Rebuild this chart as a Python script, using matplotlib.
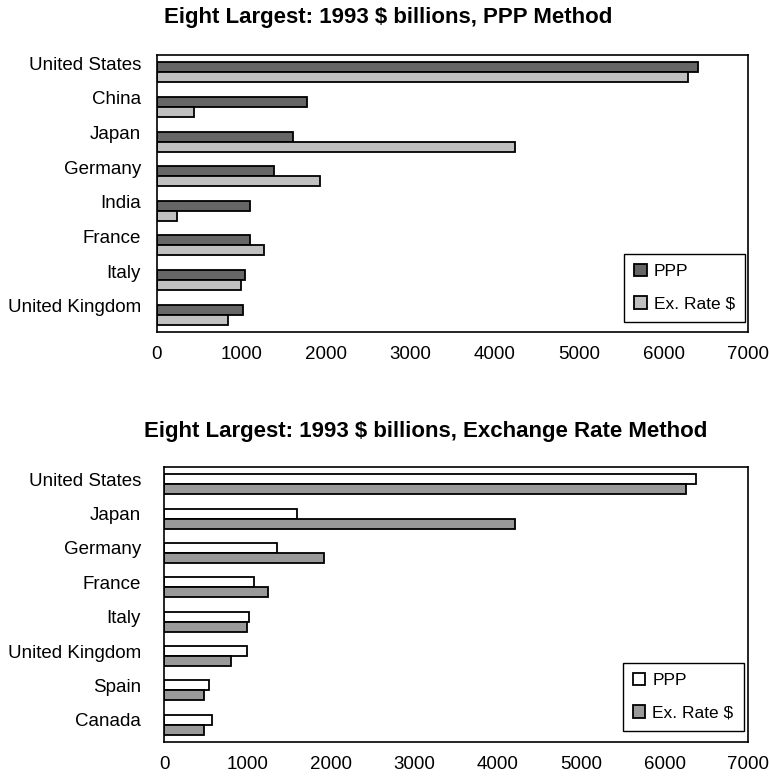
import numpy as np
import matplotlib.pyplot as plt
from matplotlib.transforms import ScaledTranslation

plt.rcParams['font.family'] = ['Liberation Sans', 'DejaVu Sans']

# data, $ billions (1993)
ppp_countries = ['United States', 'China', 'Japan', 'Germany', 'India',
                 'France', 'Italy', 'United Kingdom']
ppp_ppp = [6410, 1775, 1610, 1385, 1105, 1105, 1040, 1020]
ppp_exr = [6290, 440, 4240, 1930, 240, 1265, 990, 840]

exr_countries = ['United States', 'Japan', 'Germany', 'France', 'Italy',
                 'United Kingdom', 'Spain', 'Canada']
exr_ppp = [6380, 1595, 1355, 1080, 1020, 995, 540, 575]
exr_exr = [6255, 4210, 1920, 1250, 995, 805, 480, 480]

xticks = [0, 1000, 2000, 3000, 4000, 5000, 6000, 7000]

fig = plt.figure(figsize=(7.69, 7.79), dpi=100)


def draw(ax, cats, a, b, col_a, col_b, ypad, yshift, leg_anchor):
    y = np.arange(len(cats))
    h = 0.29
    ax.barh(y - h / 2, a, height=h, color=col_a, edgecolor='black',
            linewidth=1.3, label='PPP')
    ax.barh(y + h / 2, b, height=h, color=col_b, edgecolor='black',
            linewidth=1.3, label='Ex. Rate $')
    ax.set_ylim(len(cats) - 0.5, -0.5)
    ax.set_xlim(0, 7000)
    ax.set_xticks(xticks)
    ax.set_yticks(y)
    ax.set_yticklabels(cats)
    ax.tick_params(axis='x', length=0, pad=10, labelsize=13.5)
    ax.tick_params(axis='y', length=0, pad=ypad, labelsize=13.5)
    # labels sit a little above the middle of each bar pair
    off = ScaledTranslation(0, yshift / 100, fig.dpi_scale_trans)
    for lab in ax.get_yticklabels():
        lab.set_transform(lab.get_transform() + off)
    for s in ax.spines.values():
        s.set_linewidth(1.2)
    leg = ax.legend(loc='lower right', bbox_to_anchor=leg_anchor,
                    borderaxespad=0, fancybox=False, framealpha=1,
                    edgecolor='black', fontsize=12.5, handlelength=0.7,
                    handleheight=0.7, handletextpad=0.4, labelspacing=1.0,
                    borderpad=0.6)
    leg.get_frame().set_linewidth(1.0)


ax1 = fig.add_axes([157 / 769, 1 - 332 / 779, 591 / 769, 277 / 779])
draw(ax1, ppp_countries, ppp_ppp, ppp_exr, '#666666', '#c0c0c0', 11.5, 9,
     (0.995, 0.036))

ax2 = fig.add_axes([164 / 769, 1 - 742 / 779, 584 / 769, 275 / 779])
draw(ax2, exr_countries, exr_ppp, exr_exr, 'white', '#999999', 16.5, 5,
     (0.993, 0.04))

fig.text(388 / 769, 1 - 18 / 779, 'Eight Largest: 1993 $ billions, PPP Method',
         ha='center', va='center', fontsize=16, fontweight='bold')
fig.text(426 / 769, 1 - 431 / 779,
         'Eight Largest: 1993 $ billions, Exchange Rate Method',
         ha='center', va='center', fontsize=16, fontweight='bold')

fig.savefig('out.png', dpi=100)
